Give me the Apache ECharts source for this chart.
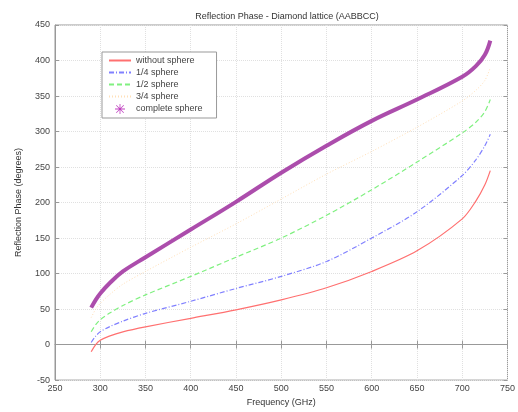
<!doctype html>
<html>
<head>
<meta charset="utf-8">
<title>Reflection Phase - Diamond lattice</title>
<style>
  html, body { margin: 0; padding: 0; background: #fff; }
  #main { width: 518px; height: 412px; }
</style>
</head>
<body>
<div id="main"></div>
<script src="https://cdn.jsdelivr.net/npm/echarts@6/dist/echarts.min.js"></script>
<script>
// frequency samples (GHz)
var freqs = [290, 295, 300, 310, 325, 350, 400, 450, 500, 550, 600, 650, 700, 715, 725, 731];

// reflection phase (degrees)
var withoutSphere  = [-10, 0, 6, 12, 18, 25, 37, 49, 63, 80, 103, 132, 177, 202, 225, 245];
var quarterSphere  = [3, 12, 18, 25, 33, 44, 61, 79, 96, 117, 150, 187, 238, 260, 280, 296];
var halfSphere     = [18, 28, 35, 44, 55, 70, 96, 123, 150, 182, 218, 257, 298, 313, 328, 345];
var threeQuarter   = [38, 50, 58, 70, 85, 103, 137, 170, 205, 240, 272, 306, 343, 358, 372, 390];
var completeSphere = [52, 63, 72, 86, 103, 123, 162, 201, 242, 280, 315, 345, 377, 392, 408, 428];

var names = ['without sphere', '1/4 sphere', '1/2 sphere', '3/4 sphere', 'complete sphere'];

function pairs(vals) {
    var out = [];
    for (var i = 0; i < freqs.length; i++) {
        out.push([freqs[i], vals[i]]);
    }
    return out;
}

var starIcon = 'path://M4.6,0h0.8v10h-0.8z M0,4.6h10v0.8h-10z M1.5,1l7.5,7.5l-0.5,0.5l-7.5,-7.5z M8.5,1l0.5,0.5l-7.5,7.5l-0.5,-0.5z';

var fontFam = '"Liberation Sans", Arial, sans-serif';

// legend entries: line only for the first four, star marker only for the last
var hideMark = { opacity: 0 };
var legendItems = [];
for (var k = 0; k < 4; k++) {
    legendItems.push({ name: names[k], itemStyle: hideMark });
}
legendItems.push({ name: names[4], icon: starIcon, itemStyle: { color: '#c040c0' }, lineStyle: { opacity: 0 } });

var chart = echarts.init(document.getElementById('main'));
chart.setOption({
    animation: false,
    backgroundColor: '#fff',
    title: {
        text: 'Reflection Phase - Diamond lattice (AABBCC)',
        left: 282,
        textAlign: 'center',
        top: 7,
        textStyle: { fontSize: 9, fontWeight: 'normal', color: '#333', fontFamily: fontFam }
    },
    legend: {
        orient: 'vertical',
        left: 102,
        top: 52,
        backgroundColor: '#fff',
        borderColor: '#999',
        borderWidth: 1,
        padding: [4, 14, 4, 6],
        itemGap: 3,
        itemWidth: 22,
        itemHeight: 10,
        textStyle: { fontSize: 9, color: '#444', fontFamily: fontFam },
        data: legendItems
    },
    grid: {
        left: 55, right: 10, top: 25, bottom: 27,
        show: true,
        borderColor: '#999',
        borderWidth: 1
    },
    xAxis: [{
        type: 'value',
        min: 250, max: 750, interval: 50,
        name: 'Frequency (GHz)',
        nameLocation: 'middle',
        nameGap: 17,
        nameTextStyle: { fontSize: 9, color: '#333', fontFamily: fontFam },
        axisLine: { lineStyle: { color: '#999' } },
        axisTick: { inside: true, length: 4, lineStyle: { color: '#999' } },
        axisLabel: { fontSize: 9, color: '#444', margin: 4, fontFamily: fontFam },
        splitLine: { show: true, lineStyle: { color: '#e0e0e0', type: 'dotted' } }
    }, {
        type: 'value', position: 'top',
        min: 250, max: 750, interval: 50,
        axisLine: { show: false },
        axisTick: { show: true, inside: true, length: 4, lineStyle: { color: '#999' } },
        axisLabel: { show: false },
        splitLine: { show: false }
    }],
    yAxis: [{
        type: 'value',
        min: -50, max: 450, interval: 50,
        name: 'Reflection Phase (degrees)',
        nameLocation: 'middle',
        nameGap: 32,
        nameTextStyle: { fontSize: 9, color: '#333', fontFamily: fontFam },
        axisLine: { show: true, lineStyle: { color: '#999' } },
        axisTick: { show: true, inside: true, length: 4, lineStyle: { color: '#999' } },
        axisLabel: { fontSize: 9, color: '#444', margin: 5, fontFamily: fontFam },
        splitLine: { show: true, lineStyle: { color: '#e0e0e0', type: 'dotted' } }
    }, {
        type: 'value', position: 'right',
        min: -50, max: 450, interval: 50,
        axisLine: { show: false },
        axisTick: { show: true, inside: true, length: 4, lineStyle: { color: '#999' } },
        axisLabel: { show: false },
        splitLine: { show: false }
    }],
    series: [
        {
            name: names[0], type: 'line', smooth: 0.3, symbol: 'none',
            lineStyle: { color: '#ff7070', width: 1.2 },
            itemStyle: { color: '#ff7070' },
            data: pairs(withoutSphere)
        },
        {
            name: names[1], type: 'line', smooth: 0.3, symbol: 'none',
            lineStyle: { color: '#8080ff', width: 1.2, type: [5, 2, 1, 2] },
            itemStyle: { color: '#8080ff' },
            data: pairs(quarterSphere)
        },
        {
            name: names[2], type: 'line', smooth: 0.3, symbol: 'none',
            lineStyle: { color: '#80f080', width: 1.2, type: [5, 3] },
            itemStyle: { color: '#80f080' },
            data: pairs(halfSphere)
        },
        {
            name: names[3], type: 'line', smooth: 0.3, symbol: 'none',
            lineStyle: { color: '#ffe0b8', width: 1, type: [1, 2] },
            itemStyle: { color: '#ffe0b8' },
            data: pairs(threeQuarter)
        },
        {
            name: names[4], type: 'line', smooth: 0.4, symbol: 'none',
            lineStyle: { color: '#a33aa3', width: 4, opacity: 0.9 },
            itemStyle: { color: '#c040c0' },
            data: pairs(completeSphere)
        }
    ]
});
</script>
</body>
</html>
